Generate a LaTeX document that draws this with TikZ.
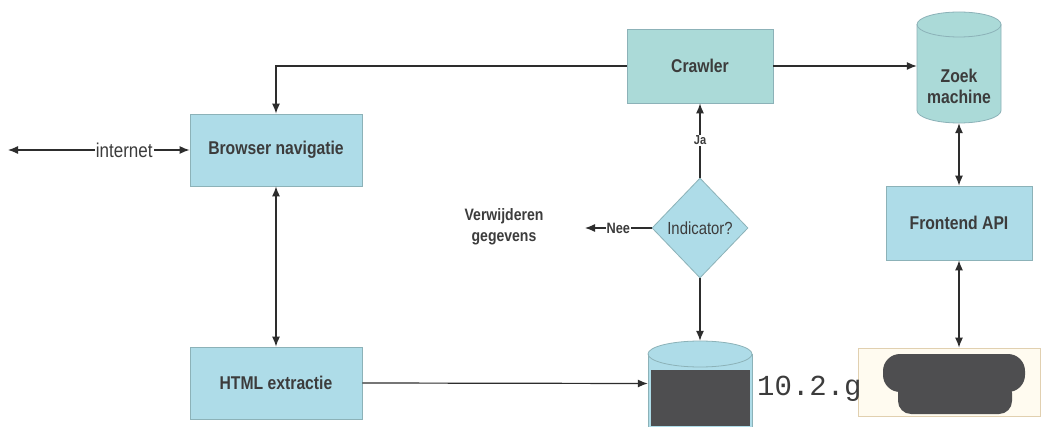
\documentclass[tikz,border=0pt]{standalone}
\usepackage{fontspec}
\setmainfont{Liberation Sans}
\newfontfamily\labfont[FakeStretch=0.85]{Liberation Sans}
\newfontfamily\monofont{Liberation Mono}
\usetikzlibrary{arrows.meta,shapes.geometric}
\definecolor{boxblue}{RGB}{174,220,232}
\definecolor{boxgreen}{RGB}{171,218,216}
\definecolor{boxedge}{RGB}{140,178,184}
\definecolor{txt}{RGB}{60,60,60}
\definecolor{lin}{RGB}{45,45,45}
\definecolor{creamfill}{RGB}{255,251,240}
\definecolor{creamedge}{RGB}{225,208,176}
\definecolor{redact}{RGB}{78,78,80}
\begin{document}
\begin{tikzpicture}[x=1pt,y=1pt,
  procbox/.style={draw=boxedge,line width=0.8pt,fill=boxblue,minimum width=172pt,minimum height=72pt,inner sep=0pt,
    font=\labfont\bfseries\fontsize{18.5}{20}\selectfont,text=txt},
  arr/.style={draw=lin,line width=1.2pt,-{Latex[length=10pt,width=8pt]}},
  darr/.style={draw=lin,line width=1.2pt,{Latex[length=10pt,width=8pt]}-{Latex[length=10pt,width=8pt]}},
  lbl/.style={fill=white,inner sep=1pt,text=txt}
]
\useasboundingbox (0,0) rectangle (1047,426);
\fill[white] (0,0) rectangle (1047,426);

% boxes
\node[procbox] (browser) at (276,276) {Browser navigatie};
\node[procbox] (html) at (276,43) {HTML extractie};
\node[procbox,fill=boxgreen,minimum width=146pt,minimum height=74pt] (crawler) at (700,360) {Crawler};
\node[procbox,minimum width=146pt,minimum height=74pt] (frontend) at (959,203) {Frontend API};
\node[diamond,draw=boxedge,line width=0.8pt,fill=boxblue,minimum width=96pt,minimum height=100pt,inner sep=0pt,
  font=\labfont\fontsize{17.5}{19}\selectfont,text=txt] (indicator) at (700,198) {Indicator?};

% Zoek machine cylinder
\fill[boxgreen] (917,401.5) -- (917,315.5) arc[start angle=180,end angle=360,x radius=42,y radius=12.5]
  -- (1001,401.5) arc[start angle=0,end angle=180,x radius=42,y radius=12.5] -- cycle;
\draw[boxedge,line width=0.8pt] (917,401.5) -- (917,315.5) arc[start angle=180,end angle=360,x radius=42,y radius=12.5]
  -- (1001,401.5);
\draw[boxedge,line width=0.8pt] (959,401.5) ellipse[x radius=42,y radius=12.5];
\node[minimum width=84pt,minimum height=111pt,inner sep=0pt] (zoek) at (959,358.5) {};
\node[align=center,font=\labfont\bfseries\fontsize{18.5}{21}\selectfont,text=txt] (zoektxt) at (959,340) {Zoek\\machine};

% bottom database cylinder
\begin{scope}
\clip (0,0) rectangle (1047,426);
\fill[boxblue] (648,72) -- (648,-20) -- (752,-20) -- (752,72) arc[start angle=0,end angle=180,x radius=52,y radius=13] -- cycle;
\draw[boxedge,line width=0.8pt] (648,-20) -- (648,72);
\draw[boxedge,line width=0.8pt] (752,-20) -- (752,72);
\draw[boxedge,line width=0.8pt] (700,72) ellipse[x radius=52,y radius=13];
\end{scope}
\node[minimum width=104pt,minimum height=85pt,inner sep=0pt] (db) at (700,42.5) {};
\fill[redact] (651,0) rectangle (750,56);

% bottom-right box
\node[draw=creamedge,line width=0.8pt,fill=creamfill,minimum width=182pt,minimum height=68pt,inner sep=0pt] (ui) at (949,44) {};
\fill[redact,rounded corners=17pt] (883,34) rectangle (1025,72);
\fill[redact,rounded corners=13pt] (898,12) rectangle (1012,46);

\node[anchor=base west,inner sep=0pt,font=\monofont\fontsize{29}{30}\selectfont,text=txt] (ver) at (757,31) {10.2.g};

% free ends
\coordinate (inet) at (8,276);
\coordinate (nee) at (585,198);

% connectors
\draw[darr] (inet) -- (browser.west) node[lbl,pos=0.64,font=\labfont\fontsize{20}{22}\selectfont] (inetlbl) {internet};
\draw[darr] (browser.south) -- (html.north);
\draw[arr] (crawler.west) -| (browser.north);
\draw[arr] (crawler.east) -- (crawler.east -| zoek.west);
\draw[darr] (zoek.south) -- (frontend.north);
\draw[darr] (frontend.south) -- (frontend.south |- ui.north);
\draw[arr] (indicator.north) -- (crawler.south) node[lbl,midway,font=\labfont\bfseries\fontsize{13}{14}\selectfont] (jalbl) {Ja};
\draw[arr] (indicator.west) -- (nee) node[lbl,midway,font=\labfont\bfseries\fontsize{15}{16}\selectfont] (neelbl) {Nee};
\draw[arr] (indicator.south) -- (db.north);
\draw[arr] (html.east) -- (db.west);

\node[align=center,font=\labfont\bfseries\fontsize{16.5}{21}\selectfont,text=txt] (verw) at (504,199) {Verwijderen\\gegevens};
\end{tikzpicture}
\end{document}
